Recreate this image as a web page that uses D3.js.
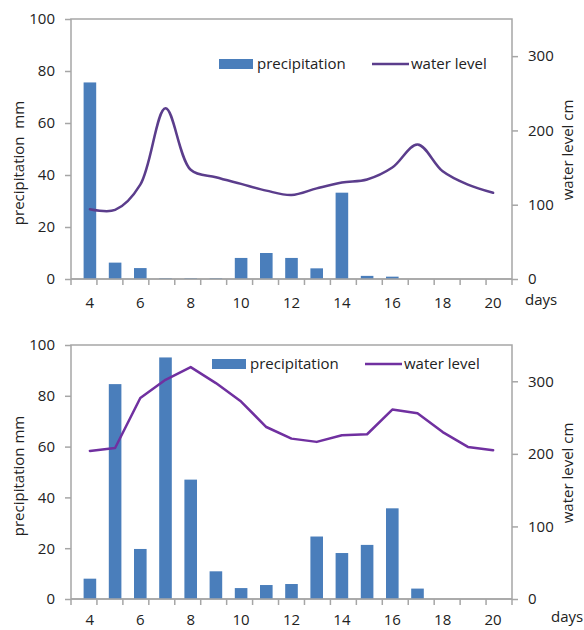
<!DOCTYPE html>
<html>
<head>
<meta charset="utf-8">
<script src="https://cdn.jsdelivr.net/npm/d3@7"></script>
<style>
  body { margin: 0; background: #fff; }
  svg { font-family: "Open Sans", sans-serif; }
</style>
</head>
<body>
<div id="chart"></div>
<script>
var days = [4, 5, 6, 7, 8, 9, 10, 11, 12, 13, 14, 15, 16, 17, 18, 19, 20];
var tickDays = [4, 6, 8, 10, 12, 14, 16, 18, 20];
var precipTicks = [0, 20, 40, 60, 80, 100];
var levelTicks = [0, 100, 200, 300];

// top panel
var precip1 = [75.6, 6.3, 4.2, 0.3, 0.3, 0.3, 8.1, 10, 8.1, 4.1, 33.2, 1.2, 0.9, 0, 0, 0, 0];
var level1 = [94, 93, 127, 230, 147, 137, 128, 119, 113, 122, 130, 134, 150, 181, 145, 127, 116];

// bottom panel
var precip2 = [8, 84.6, 19.7, 95.1, 47, 10.9, 4.3, 5.5, 5.9, 24.6, 18.1, 21.3, 35.7, 4.1, 0, 0, 0];
var level2 = [204, 208, 277, 302, 319.5, 297.5, 272, 237, 221, 216.5, 225.7, 227, 261, 256, 230, 209.6, 205];

var width = 584, height = 630;
var svg = d3.select("#chart").append("svg")
    .attr("width", width)
    .attr("height", height);

var axisColor = "#a6a6a6",
    barColor = "#4a7ebb";

function panel(cfg) {
  var g = svg.append("g");

  var x = d3.scaleBand()
      .domain(days)
      .range([71, 512])
      .padding(0.5);
  // band edges for the ticks
  var xEdge = d3.scaleLinear().domain([0, days.length]).range([71, 512]);

  var y = d3.scaleLinear().domain([0, 100]).range([cfg.bottom, cfg.top]);
  var y2 = d3.scaleLinear().domain([0, 350]).range([cfg.bottom, cfg.top]);

  // frame
  g.append("rect")
      .attr("x", 71).attr("y", cfg.top)
      .attr("width", 512 - 71).attr("height", cfg.bottom - cfg.top)
      .attr("fill", "none")
      .attr("stroke", axisColor)
      .attr("stroke-width", 1.5);

  // bars
  g.selectAll("rect.bar")
      .data(cfg.precip)
    .enter().append("rect")
      .attr("class", "bar")
      .attr("x", function(d, i) { return x(days[i]); })
      .attr("width", x.bandwidth())
      .attr("y", function(d) { return y(d); })
      .attr("height", function(d) { return cfg.bottom - y(d); })
      .attr("fill", barColor);

  // left axis
  var left = g.append("g")
      .attr("transform", "translate(71,0)")
      .call(d3.axisLeft(y).tickValues(precipTicks).tickSize(6).tickPadding(10));
  // right axis
  var right = g.append("g")
      .attr("transform", "translate(512,0)")
      .call(d3.axisRight(y2).tickValues(levelTicks).tickSize(6).tickPadding(10));
  // bottom axis: ticks at band edges
  var bottom = g.append("g")
      .attr("transform", "translate(0," + cfg.bottom + ")");
  bottom.append("line")
      .attr("x1", 71).attr("x2", 512)
      .attr("stroke", axisColor).attr("stroke-width", 1.5);
  bottom.selectAll("line.tk")
      .data(d3.range(days.length + 1))
    .enter().append("line")
      .attr("class", "tk")
      .attr("x1", function(d) { return xEdge(d); })
      .attr("x2", function(d) { return xEdge(d); })
      .attr("y1", 0).attr("y2", 6)
      .attr("stroke", axisColor).attr("stroke-width", 1.5);
  bottom.selectAll("text")
      .data(tickDays)
    .enter().append("text")
      .attr("x", function(d) { return x(d) + x.bandwidth() / 2; })
      .attr("y", cfg.labelOff)
      .attr("text-anchor", "middle")
      .attr("font-size", 15)
      .attr("fill", "#222")
      .text(function(d) { return d; });

  [left, right].forEach(function(a) {
    a.select(".domain").remove();
    a.selectAll("line").attr("stroke", axisColor).attr("stroke-width", 1.5);
    a.selectAll("text").attr("font-size", 15).attr("fill", "#222")
        .attr("font-family", "Open Sans, sans-serif");
  });

  g.append("text")
      .attr("x", cfg.daysX)
      .attr("y", cfg.bottom + cfg.labelOff - 3)
      .attr("font-size", 15)
      .attr("fill", "#222")
      .text("days");

  // water level line
  var line = d3.line()
      .x(function(d, i) { return x(days[i]) + x.bandwidth() / 2; })
      .y(function(d) { return y2(d); })
      .curve(cfg.smooth ? d3.curveCatmullRom.alpha(0.5) : d3.curveLinear);

  g.append("path")
      .datum(cfg.level)
      .attr("fill", "none")
      .attr("stroke", cfg.lineColor)
      .attr("stroke-width", 2.5)
      .attr("stroke-linejoin", "round")
      .attr("stroke-linecap", "round")
      .attr("d", line);

  // axis titles
  g.append("text")
      .attr("transform", "translate(19," + cfg.leftTitleY + ") rotate(-90)")
      .attr("text-anchor", "middle")
      .attr("dy", "0.35em")
      .attr("font-size", 15)
      .attr("fill", "#222")
      .style("white-space", "pre")
      .text(cfg.leftTitle);
  g.append("text")
      .attr("transform", "translate(568," + cfg.rightTitleY + ") rotate(-90)")
      .attr("text-anchor", "middle")
      .attr("dy", "0.35em")
      .attr("font-size", 15)
      .attr("fill", "#222")
      .text("water level cm");

  // legend
  var lg = g.append("g");
  lg.append("rect")
      .attr("x", cfg.legX).attr("y", cfg.legY - 5)
      .attr("width", 34).attr("height", 10)
      .attr("fill", barColor);
  lg.append("text")
      .attr("x", cfg.legX + 38).attr("y", cfg.legY)
      .attr("dy", "0.32em")
      .attr("font-size", 15)
      .attr("fill", "#222")
      .text("precipitation");
  lg.append("line")
      .attr("x1", cfg.leg2X).attr("x2", cfg.leg2X + 37)
      .attr("y1", cfg.legY).attr("y2", cfg.legY)
      .attr("stroke", cfg.lineColor)
      .attr("stroke-width", 2.5);
  lg.append("text")
      .attr("x", cfg.leg2X + 39).attr("y", cfg.legY)
      .attr("dy", "0.32em")
      .attr("font-size", 15)
      .attr("fill", "#222")
      .text("water level");
}

panel({
  top: 19, bottom: 279,
  precip: precip1, level: level1,
  smooth: true, lineColor: "#5b3d8c",
  leftTitle: "precipitation  mm", leftTitleY: 163, rightTitleY: 150,
  daysX: 525, labelOff: 29,
  legX: 219, legY: 64, leg2X: 372
});

panel({
  top: 345, bottom: 599,
  precip: precip2, level: level2,
  smooth: false, lineColor: "#7030a0",
  leftTitle: "precipitation mm", leftTitleY: 476, rightTitleY: 473,
  daysX: 551, labelOff: 26,
  legX: 212, legY: 364, leg2X: 365
});
</script>
</body>
</html>
